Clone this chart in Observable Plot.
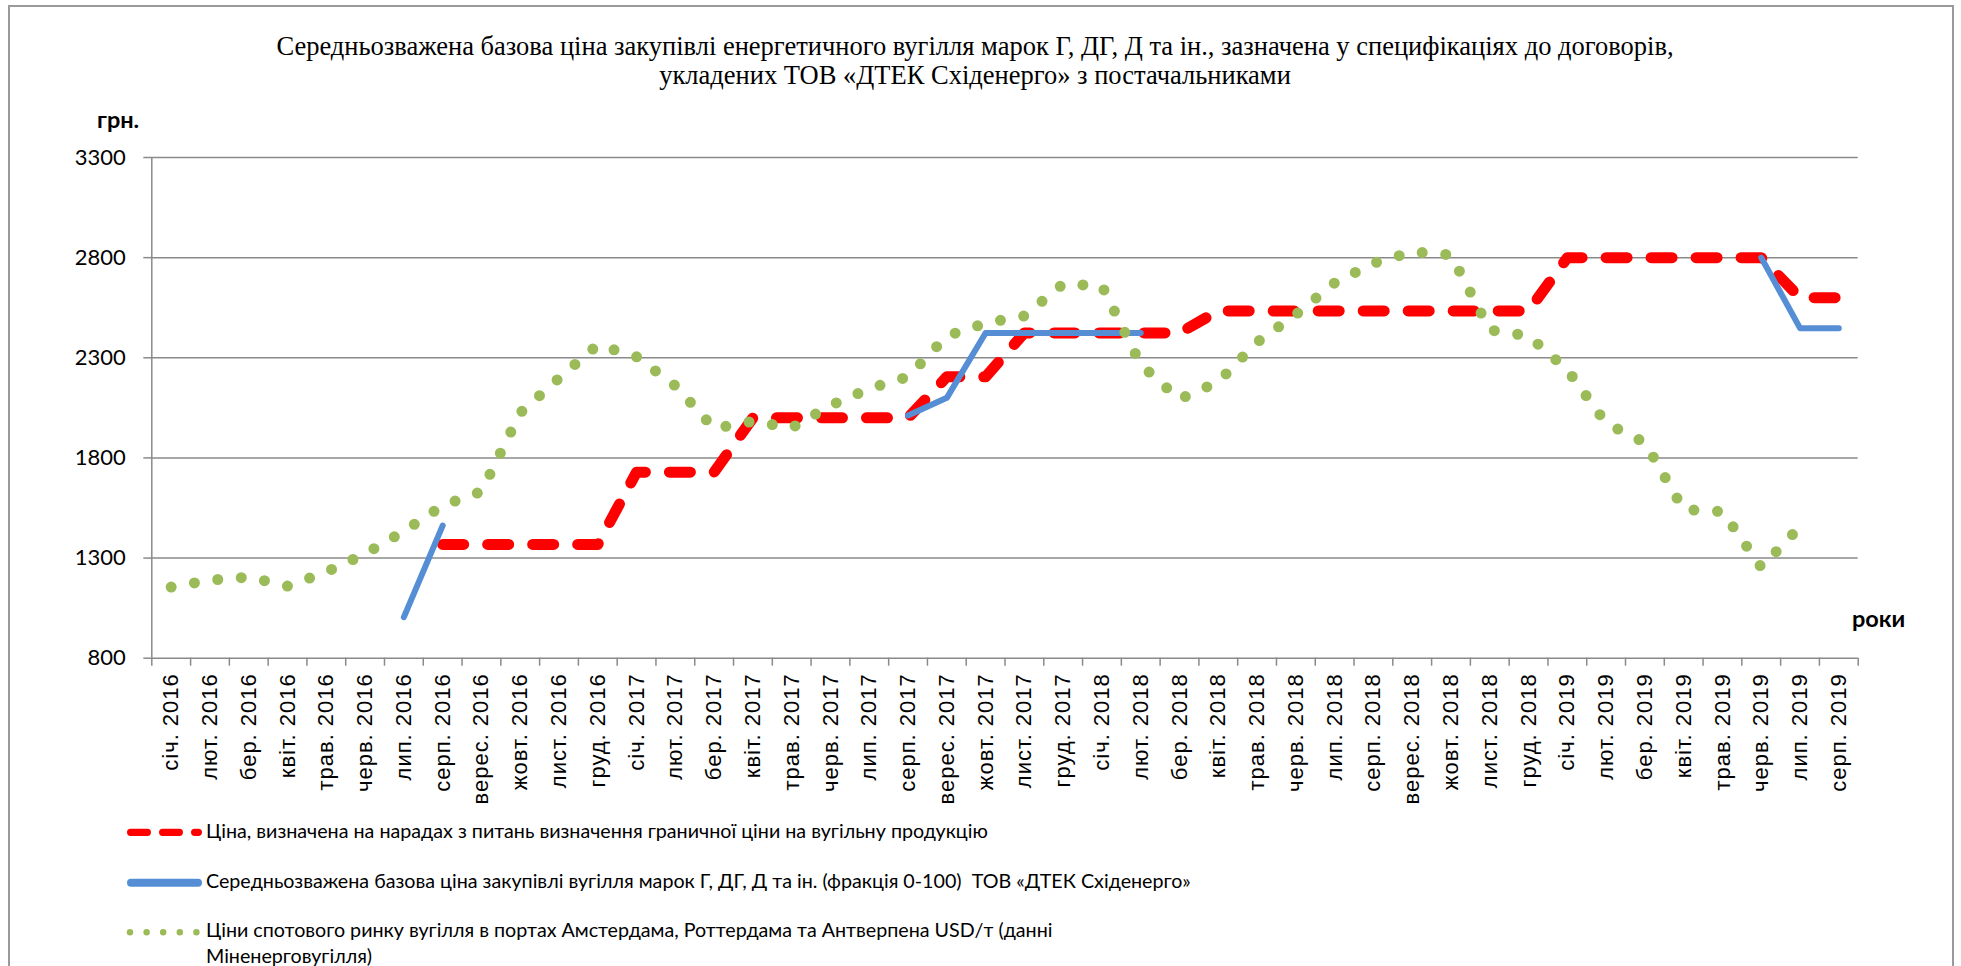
<!DOCTYPE html>
<html><head><meta charset="utf-8">
<script src="https://cdn.jsdelivr.net/npm/d3@7"></script>
<script src="https://cdn.jsdelivr.net/npm/@observablehq/plot@0.6"></script>
<style>
body{margin:0;background:#fff;}
#page{position:relative;width:1961px;height:966px;overflow:hidden;background:#fff;}
#frame{position:absolute;left:8px;top:5px;width:1942px;height:1100px;border:2px solid #9a9a9a;pointer-events:none;}
.t{position:absolute;white-space:pre;color:#000;}
#title{left:0;width:1950px;top:32px;text-align:center;font-family:"Liberation Serif","Times New Roman",serif;font-size:26.5px;line-height:28.7px;}
.unit{font-family:Lato,sans-serif;font-weight:bold;font-size:23.5px;line-height:28.2px;}
.leg{left:206px;font-family:Lato,sans-serif;font-size:19.7px;line-height:25.5px;}
#chart{position:absolute;left:0;top:0;}
#swatches{position:absolute;left:0;top:800px;}
[font-family*="Liberation Sans"]{letter-spacing:1px;}
</style></head>
<body><div id="page">
<div id="chart"></div>
<div class="t" id="title">Середньозважена базова ціна закупівлі енергетичного вугілля марок Г, ДГ, Д та ін., зазначена у специфікаціях до договорів,
укладених ТОВ «ДТЕК Східенерго» з постачальниками</div>
<div class="t unit" style="left:97px;top:104.5px">грн.</div>
<div class="t unit" style="left:1852px;top:604.1px">роки</div>
<svg id="swatches" width="260" height="166"></svg>
<div class="t leg" style="top:817.9px">Ціна, визначена на нарадах з питань визначення граничної ціни на вугільну продукцію</div>
<div class="t leg" style="top:867.6px">Середньозважена базова ціна закупівлі вугілля марок Г, ДГ, Д та ін. (фракція 0-100)  ТОВ «ДТЕК Східенерго»</div>
<div class="t leg" style="top:917.3px">Ціни спотового ринку вугілля в портах Амстердама, Роттердама та Антверпена USD/т (данні
Міненерговугілля)</div>
<div id="frame"></div>
</div>
<script>
const months = [
  "січ. 2016","лют. 2016","бер. 2016","квіт. 2016","трав. 2016","черв. 2016","лип. 2016","серп. 2016","верес. 2016","жовт. 2016","лист. 2016","груд. 2016",
  "січ. 2017","лют. 2017","бер. 2017","квіт. 2017","трав. 2017","черв. 2017","лип. 2017","серп. 2017","верес. 2017","жовт. 2017","лист. 2017","груд. 2017",
  "січ. 2018","лют. 2018","бер. 2018","квіт. 2018","трав. 2018","черв. 2018","лип. 2018","серп. 2018","верес. 2018","жовт. 2018","лист. 2018","груд. 2018",
  "січ. 2019","лют. 2019","бер. 2019","квіт. 2019","трав. 2019","черв. 2019","лип. 2019","серп. 2019"
];
// Ціна, визначена на нарадах (red dashed)
const cenaNarady = [
  null,null,null,null,null,null,null,1368,1368,1368,1368,1368,
  1729,1729,1729,2000,2000,2000,2000,2000,2205,2205,2424,2424,
  2424,2424,2424,2534,2534,2534,2534,2534,2534,2534,2534,2534,
  2800,2800,2800,2800,2800,2800,2600,2600
];
// Середньозважена базова ціна ТОВ «ДТЕК Східенерго» (blue)
const cenaSkhidenergo = [
  null,null,null,null,null,null,1005,1462,null,null,null,null,
  null,null,null,null,null,null,null,2012,2100,2424,2424,2424,
  2424,2424,null,null,null,null,null,null,null,null,null,null,
  null,null,null,null,null,2800,2448,2448
];
// Ціни спотового ринку ARA (green dotted)
const cenaSpot = [
  1155,1190,1205,1160,1231,1321,1434,1562,1632,2025,2198,2365,
  2305,2160,1947,1983,1950,2062,2146,2205,2409,2473,2509,2669,
  2659,2266,2093,2180,2378,2516,2674,2772,2829,2814,2439,2409,
  2240,1973,1877,1542,1532,1254,1457,null
];
const yTicks = [800,1300,1800,2300,2800,3300];

const rows = months.map((m,i)=>({i, month:m, red:cenaNarady[i], blue:cenaSkhidenergo[i], green:cenaSpot[i]}));
const gridColor = "#8a8a8a";

const chart = Plot.plot({
  width:1961, height:812,
  marginTop:157, marginBottom:154.3, marginLeft:151.3, marginRight:103.3,
  style:{background:"transparent", overflow:"visible"},
  x:{type:"linear", domain:[-0.5, months.length-0.5]},
  y:{type:"linear", domain:[800,3300]},
  marks:[
    Plot.gridY(yTicks,{stroke:gridColor, strokeOpacity:1, strokeWidth:1.5}),
    Plot.ruleX([-0.5],{stroke:gridColor, strokeWidth:1.5}),
    Plot.axisY(yTicks,{tickSize:8, tickPadding:18, stroke:gridColor, strokeWidth:1.5, fill:"#000", fontSize:22, fontFamily:"Lato", tickFormat:d=>String(d), label:null}),
    Plot.axisX(d3.range(-0.5, months.length),{tickSize:8, stroke:gridColor, strokeWidth:1.5, tickFormat:()=>"", label:null}),
    Plot.axisX(d3.range(months.length),{tickSize:0, tickPadding:15, tickRotate:-90, tickFormat:i=>months[i], fontSize:22, fontFamily:"Liberation Sans", fill:"#000", label:null}),
    Plot.line(rows,{x:"i", y:"red", stroke:"#ff0000", strokeWidth:11, strokeLinecap:"round", strokeLinejoin:"round", strokeDasharray:"21 24"}),
    Plot.line(rows,{x:"i", y:"blue", stroke:"#558ed5", strokeWidth:6, strokeLinecap:"round", strokeLinejoin:"round"}),
    Plot.line(rows,{x:"i", y:"green", stroke:"#9bbb59", strokeWidth:11, strokeLinecap:"round", strokeLinejoin:"round", strokeDasharray:"0 23.6"})
  ]
});
document.getElementById("chart").appendChild(chart);

// legend swatches
const sw = d3.select("#swatches");
sw.append("line").attr("x1",130.65).attr("x2",198.35).attr("y1",32.3).attr("y2",32.3)
  .attr("stroke","#ff0000").attr("stroke-width",7.3).attr("stroke-linecap","round").attr("stroke-dasharray","16.7 15.3");
sw.append("line").attr("x1",131).attr("x2",198).attr("y1",82.7).attr("y2",82.7)
  .attr("stroke","#558ed5").attr("stroke-width",8).attr("stroke-linecap","round");
sw.append("line").attr("x1",130).attr("x2",197).attr("y1",132.3).attr("y2",132.3)
  .attr("stroke","#9bbb59").attr("stroke-width",6.5).attr("stroke-linecap","round").attr("stroke-dasharray","0 16.6");
</script>
</body></html>
